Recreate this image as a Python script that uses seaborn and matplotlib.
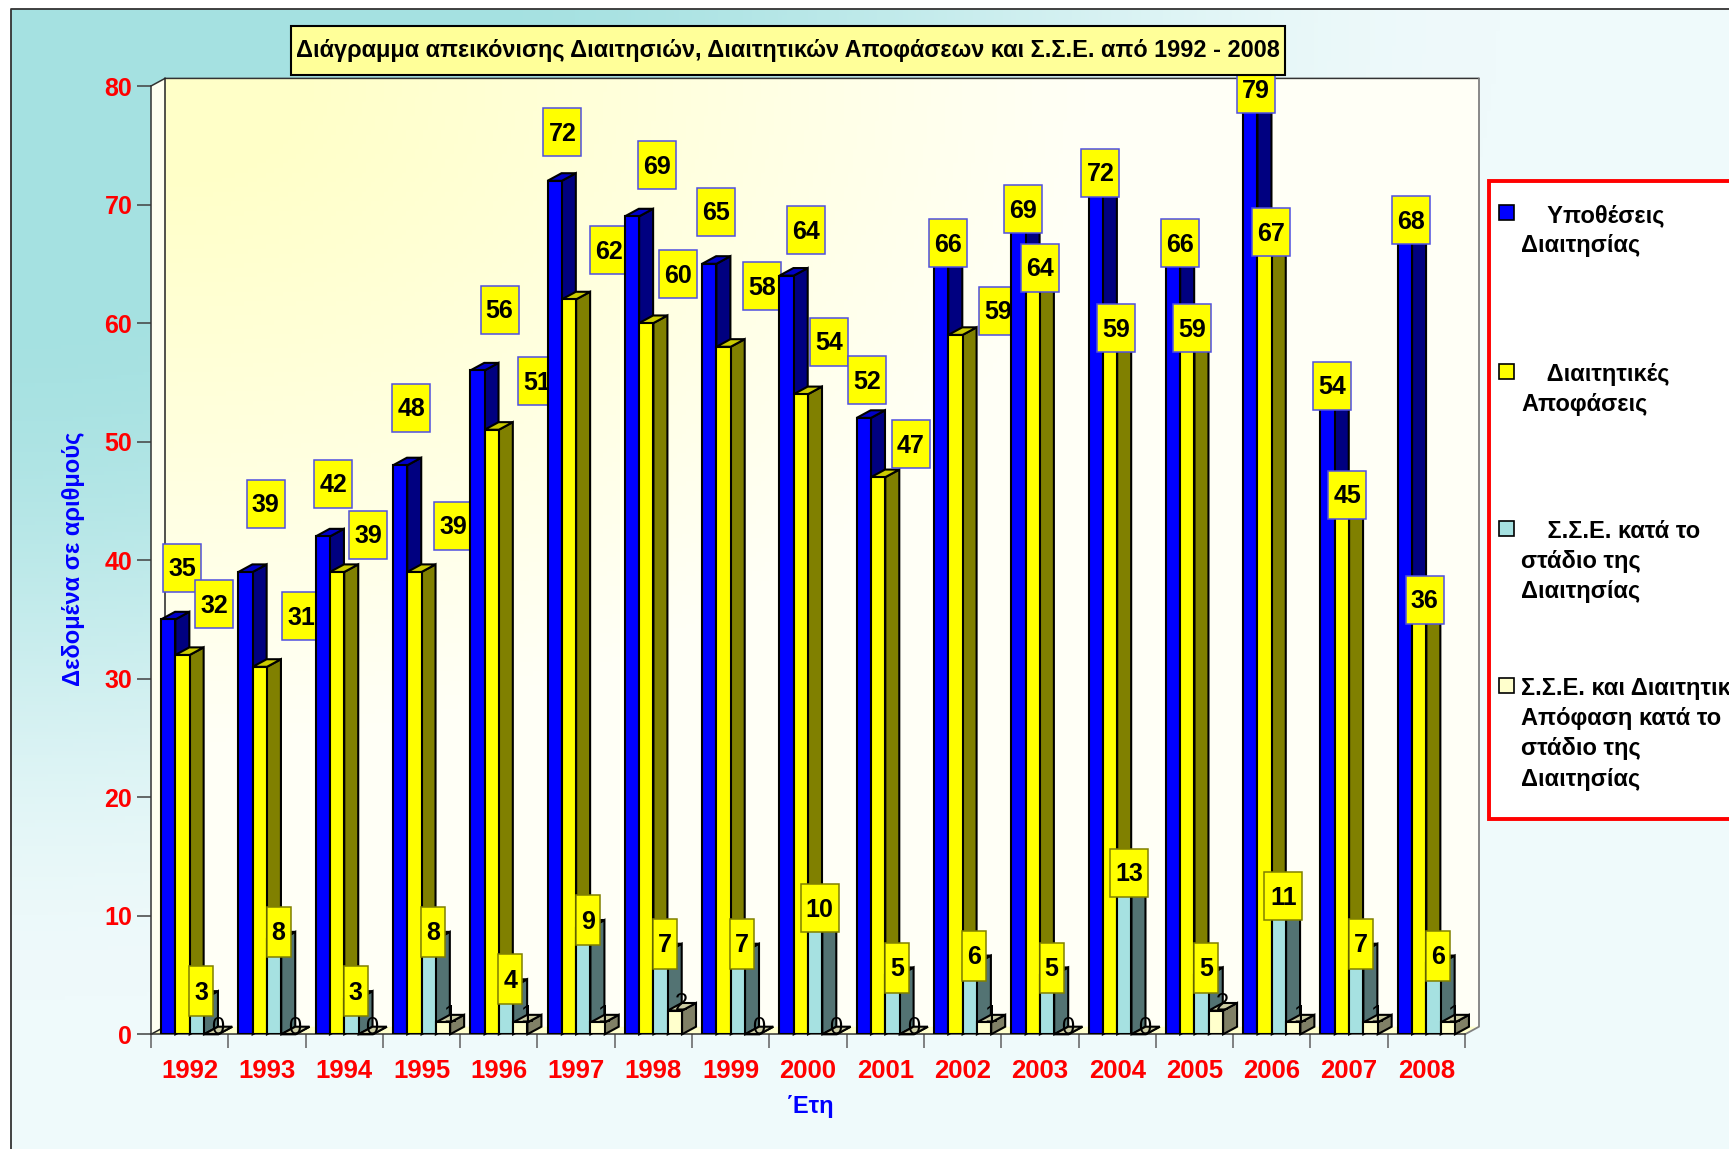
import numpy as np
import pandas as pd
import matplotlib
matplotlib.use("Agg")
import matplotlib.pyplot as plt
from matplotlib.patches import Polygon, Rectangle
from matplotlib.transforms import Affine2D
import seaborn as sns

# ---------- data ----------
years = ["1992", "1993", "1994", "1995", "1996", "1997", "1998", "1999", "2000",
         "2001", "2002", "2003", "2004", "2005", "2006", "2007", "2008"]
cases = [35, 39, 42, 48, 56, 72, 69, 65, 64, 52, 66, 69, 72, 66, 79, 54, 68]
decisions = [32, 31, 39, 39, 51, 62, 60, 58, 54, 47, 59, 64, 59, 59, 67, 45, 36]
settlements = [3, 8, 3, 8, 4, 9, 7, 7, 10, 5, 6, 5, 13, 5, 11, 7, 6]
settlements_decision = [0, 0, 0, 1, 1, 1, 2, 0, 0, 0, 1, 0, 0, 2, 1, 1, 1]
series_names = ["Υποθέσεις Διαιτησίας", "Διαιτητικές Αποφάσεις",
                "Σ.Σ.Ε. κατά το στάδιο της Διαιτησίας",
                "Σ.Σ.Ε. και Διαιτητική Απόφαση κατά το στάδιο της Διαιτησίας"]
legend_labels = ["    Υποθέσεις\nΔιαιτησίας", "    Διαιτητικές\nΑποφάσεις",
                 "    Σ.Σ.Ε. κατά το\nστάδιο της\nΔιαιτησίας",
                 "Σ.Σ.Ε. και Διαιτητική\nΑπόφαση κατά το\nστάδιο της\nΔιαιτησίας"]
title = "Διάγραμμα απεικόνισης Διαιτησιών, Διαιτητικών Αποφάσεων και Σ.Σ.Ε. από 1992 - 2008"
y_title = "Δεδομένα σε αριθμούς"
x_title = "΄Ετη"

# ---------- styling / layout ----------
W, H = 1729, 1149
front = ["#0000FF", "#FFFF00", "#A6E1E1", "#FFFFCC"]
side = ["#000080", "#808000", "#537373", "#808066"]
top = ["#0000C8", "#CCCC00", "#85B4B4", "#CCCCA3"]
AX_L, AX_R, AX_B, AX_T = 151, 1465, 1034.3, 86
DEPTH_X, DEPTH_Y = 14, 7.6
# label offsets from the front-top centre of each bar, pixels (manually dragged in the original)
cases_dx = [13.8, 20.3, 10.3, 11.3, 22.2, 7.7, 25.3, 6.4, 19.5, 2.9, 7.2, 4.9, 4.7, 6.9, 5.6, 4.4, 6.5]
cases_dy = [-51.7, -68.2, -52.5, -57.5, -60.8, -48.8, -51.2, -52.3, -45.4, -37.7, -8.5, -7.1, -8, -8.5, -8.8, -8.5, -8]
decisions_dx = [31.5, 41.3, 31.3, 38.9, 45.4, 39.7, 32, 38.4, 28.4, 32.7, 42.5, 7.1, 5.9, 4.7, 6.8, 5.5, 5.5]
decisions_dy = [-50.8, -50.5, -37.3, -46.2, -48.5, -49.3, -48.7, -60.3, -52.6, -33, -24.2, -7.9, -6.6, -6.6, -7.7, -6, -7.8]

sns.set_theme(style="white")
plt.rcParams["font.family"] = ["Liberation Sans", "DejaVu Sans"]
plt.rcParams["axes.unicode_minus"] = False

fig = plt.figure(figsize=(W / 100, H / 100), dpi=100, facecolor="white")
px = Affine2D().scale(1, -1).translate(0, H)

# ---------- background layer, in pixel coordinates ----------
bg = fig.add_axes([0, 0, 1, 1], zorder=0)
bg.set_xlim(0, W); bg.set_ylim(H, 0); bg.axis("off")


def lerp(c0, c1, t):
    c0 = np.array(matplotlib.colors.to_rgb(c0)); c1 = np.array(matplotlib.colors.to_rgb(c1))
    return c0[None, None, :] * (1 - t[..., None]) + c1[None, None, :] * t[..., None]


yy, xx = np.mgrid[0:1:300j, 0:1:400j]
d = np.sqrt((xx * W / 1500) ** 2 + (yy * H / 1000) ** 2)
t = np.clip((d - 0.3) / 0.7, 0, 1)
t = t * t * (3 - 2 * t)
bg.imshow(lerp("#A5E1E1", "#EFFAFB", t), extent=(0, W, H, 0), aspect="auto", zorder=0)
bg.add_patch(Rectangle((0, 0), W, 9, fc="white", ec="none", zorder=1))
bg.add_patch(Rectangle((0, 0), 11, H, fc="white", ec="none", zorder=1))
bg.plot([W, 11, 11], [9, 9, H], color="#333333", lw=1.3, zorder=2)
bg.set_xlim(0, W); bg.set_ylim(H, 0)

BL, BR, BT, BB = AX_L + DEPTH_X, AX_R + DEPTH_X, AX_T - DEPTH_Y, AX_B - DEPTH_Y
yy, xx = np.mgrid[0:1:200j, 0:1:300j]
d = np.sqrt(xx ** 2 + yy ** 2)
t = np.clip((d - 0.1) / 0.6, 0, 1)
bg.imshow(lerp("#FFFFC8", "#FFFFF6", t), extent=(BL, BR, BB, BT), aspect="auto", zorder=3)
bg.add_patch(Polygon([(AX_L, AX_T), (BL, BT), (BL, BB), (AX_L, AX_B)], fc="#FFFFF0", ec="none", zorder=3))
bg.add_patch(Polygon([(AX_L, AX_B), (BL, BB), (BR, BB), (AX_R, AX_B)], fc="#FFFFCC", ec="none", zorder=4))
bg.plot([AX_L, BL, BR], [AX_T, BT, BT], color="#333333", lw=1.1, zorder=5)
bg.plot([BL, BL], [BT, BB], color="#222222", lw=1.1, zorder=5)
bg.plot([BR, BR, AX_R], [BT, BB, AX_B], color="#808080", lw=1.3, zorder=5)
bg.plot([AX_L, BL], [AX_B, BB], color="#222222", lw=1.1, zorder=5)
bg.set_xlim(0, W); bg.set_ylim(H, 0)

# ---------- bars ----------
ax = fig.add_axes([AX_L / W, (H - AX_B) / H, (AX_R - AX_L) / W, (AX_B - AX_T) / H], zorder=5)
ax.patch.set_alpha(0)
df = pd.DataFrame({
    "year": years * 4,
    "value": cases + decisions + settlements + settlements_decision,
    "series": sum([[n] * len(years) for n in series_names], []),
})
sns.barplot(data=df, x="year", y="value", hue="series", hue_order=series_names,
            palette=front, saturation=1, width=0.74, gap=0, dodge=True,
            edgecolor="black", linewidth=1.5, legend=False, ax=ax)
ax.set_xlim(-0.5, 16.5)
ax.set_ylim(0, 80)

dx = DEPTH_X * 17 / (AX_R - AX_L)
dy = DEPTH_Y * 80 / (AX_B - AX_T)
for i, cont in enumerate(ax.containers):
    for j, bar in enumerate(cont.patches):
        x0, w, h = bar.get_x(), bar.get_width(), bar.get_height()
        x1 = x0 + w
        z = 10 + j * 10 + i * 2
        bar.set_zorder(z + 1)
        ax.add_patch(Polygon([(x1, 0), (x1 + dx, dy), (x1 + dx, h + dy), (x1, h)], closed=True,
                             fc=side[i], ec="black", lw=1.5, zorder=z, clip_on=False))
        ax.add_patch(Polygon([(x0, h), (x0 + dx, h + dy), (x1 + dx, h + dy), (x1, h)], closed=True,
                             fc=top[i], ec="black", lw=1.5, zorder=z, clip_on=False))


# ---------- value labels ----------
def boxed(cx, cy, text, edge, z, wide):
    bw = 38 if wide else 24
    bh = 48 if wide else 50
    ax.add_patch(Rectangle((cx - bw / 2, cy - bh / 2), bw, bh, transform=px, fc="#FFFF00", ec=edge,
                           lw=1.1, zorder=z, clip_on=False))
    ax.text(cx, cy + 1.5, text, transform=px, ha="center", va="center", fontsize=18, fontweight="bold",
            color="black", zorder=z + 0.1, clip_on=False)


for i, cont in enumerate(ax.containers):
    for j, bar in enumerate(cont.patches):
        v = bar.get_height()
        X, Y = ax.transData.transform((bar.get_x() + bar.get_width() / 2, v))
        cx, cy = X, H - Y
        z = 10 + j * 10 + 8 + i * 0.2
        label = str(int(v))
        if i == 0:
            boxed(cx + cases_dx[j], cy + cases_dy[j], label, "#5050E0", z, True)
        elif i == 1:
            boxed(cx + decisions_dx[j], cy + decisions_dy[j], label, "#5050E0", z, True)
        elif i == 2:
            boxed(cx + 4.5, cy - 7.5, label, "#808000", z, v >= 10)
        else:
            ax.text(cx + 6.5, cy - 6.5, label, transform=px, ha="center", va="center", fontsize=17,
                    color="black", zorder=z, clip_on=False)

# ---------- axes ----------
for s in ["top", "right"]:
    ax.spines[s].set_visible(False)
ax.spines["left"].set_color("#333333"); ax.spines["left"].set_linewidth(1.1)
ax.spines["bottom"].set_color("#333333"); ax.spines["bottom"].set_linewidth(1.1)
ax.set_yticks(range(0, 81, 10))
ax.tick_params(axis="y", length=10, width=1.1, color="#404040", pad=3.5, left=True,
               labelsize=18, labelcolor="#FF0000")
ax.set_xticks(np.arange(-0.5, 17, 1))
ax.set_xticklabels([])
ax.set_xticks(np.arange(17), labels=years, minor=True)
ax.tick_params(axis="x", which="major", length=10, width=1.1, color="#606060", bottom=True)
ax.tick_params(axis="x", which="minor", length=0, pad=18, labelsize=18.5, labelcolor="#FF0000")
for lab in ax.get_yticklabels() + ax.get_xticklabels(minor=True):
    lab.set_fontweight("bold")
ax.set_xlabel(""); ax.set_ylabel("")

# ---------- overlay: titles and legend ----------
ov = fig.add_axes([0, 0, 1, 1], zorder=10)
ov.patch.set_alpha(0)
ov.set_xlim(0, W); ov.set_ylim(H, 0); ov.axis("off")
ov.add_patch(Rectangle((291, 26), 994, 49, fc="#FFFF99", ec="black", lw=1.5))
ov.text(788, 51, title, ha="center", va="center", fontsize=16.9, fontweight="bold", color="black")
ov.text(74, 559, y_title, rotation=90, ha="center", va="center", fontsize=17.1, fontweight="bold", color="#0000FF")
ov.text(810, 1106, x_title, ha="center", va="center", fontsize=17, fontweight="bold", color="#0000FF")

ov.add_patch(Rectangle((1489.5, 181), 300, 638, fc="white", ec="#FF0000", lw=2.8))
entry_y = [213, 372, 529, 686]
for name, lab, color, y in zip(series_names, legend_labels, front, entry_y):
    ov.add_patch(Rectangle((1499, y - 8), 15, 15, fc=color, ec="black", lw=1.2))
    ov.text(1521, y - 9, lab, ha="left", va="top", fontsize=17, fontweight="bold",
            color="black", linespacing=1.4)

fig.savefig("out.png", dpi=100, facecolor="white")
